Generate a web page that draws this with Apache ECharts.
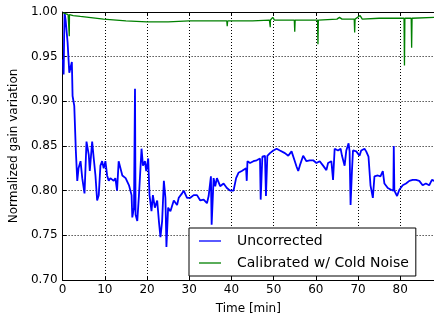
<!DOCTYPE html>
<html>
<head>
<meta charset="utf-8">
<script src="https://cdn.jsdelivr.net/npm/echarts@6/dist/echarts.min.js"></script>
<style>
  html, body {margin: 0; padding: 0; background: #fff;}
  #chart {width: 434px; height: 320px;}
</style>
</head>
<body>
<div id="chart"></div>
<script>
// minutes since start
const blueTime = [0.07, 0.24, 0.35, 0.47, 0.71, 1.18, 1.58, 2.19, 2.36, 2.76, 3.14, 3.47, 3.77, 4.25, 4.65, 5.19, 5.66, 6.2, 6.44, 7.0,
  7.38, 7.78, 8.18, 8.56, 8.96, 9.36, 9.74, 10.14, 10.54, 10.92, 11.32, 12.1, 12.5, 12.9, 13.28, 13.68, 14.15, 14.93, 15.73, 16.34,
  16.51, 16.91, 17.15, 17.29, 17.69, 18.09, 18.7, 19.03, 19.5, 19.81, 20.28, 20.59, 21.06, 21.39, 21.86, 22.41, 22.81, 23.18, 23.58, 23.99,
  24.36, 24.6, 25.0, 25.54, 26.34, 27.12, 27.52, 28.3, 28.7, 29.48, 30.26, 31.06, 31.84, 32.62, 33.42, 34.2, 34.6, 35.14, 35.31, 35.78,
  36.16, 36.56, 37.33, 38.14, 38.92, 39.69, 40.5, 41.11, 41.67, 42.45, 43.47, 43.63, 43.8, 44.41, 45.21, 45.99, 46.77, 46.93, 47.33, 47.95,
  48.18, 48.51, 49.13, 49.93, 50.71, 51.49, 52.67, 53.47, 54.25, 54.65, 55.02, 55.42, 55.83, 56.2, 57.0, 57.78, 58.56, 59.36, 60.14, 60.92,
  61.72, 62.5, 62.9, 63.68, 64.08, 64.46, 65.26, 65.87, 66.2, 66.82, 67.22, 67.76, 68.0, 68.23, 68.56, 68.8, 69.58, 70.35, 70.75, 71.53,
  71.93, 72.48, 72.95, 73.28, 73.51, 73.89, 74.69, 75.31, 75.87, 76.25, 77.05, 77.83, 78.37, 78.47, 78.61, 79.25, 79.79, 80.59, 81.37, 82.15,
  82.95, 83.73, 84.51, 85.31, 86.08, 86.86, 87.5, 88.04];
const blueGain = [0.947, 0.930, 0.969, 0.999, 0.991, 0.966, 0.932, 0.944, 0.906, 0.895, 0.844, 0.811, 0.825, 0.833, 0.814, 0.797, 0.855, 0.840, 0.822, 0.855,
  0.836, 0.817, 0.789, 0.795, 0.828, 0.833, 0.825, 0.833, 0.817, 0.811, 0.814, 0.811, 0.814, 0.800, 0.833, 0.834, 0.817, 0.814, 0.806, 0.795,
  0.770, 0.781, 0.914, 0.773, 0.766, 0.795, 0.847, 0.828, 0.833, 0.822, 0.836, 0.795, 0.777, 0.795, 0.781, 0.789, 0.766, 0.748, 0.766, 0.811,
  0.792, 0.737, 0.781, 0.777, 0.789, 0.784, 0.792, 0.797, 0.800, 0.792, 0.792, 0.795, 0.795, 0.789, 0.790, 0.786, 0.794, 0.816, 0.762, 0.814,
  0.805, 0.814, 0.805, 0.808, 0.803, 0.800, 0.800, 0.814, 0.820, 0.822, 0.825, 0.811, 0.833, 0.831, 0.833, 0.834, 0.836, 0.790, 0.838, 0.839,
  0.794, 0.839, 0.842, 0.845, 0.847, 0.845, 0.842, 0.839, 0.844, 0.844, 0.833, 0.827, 0.822, 0.828, 0.839, 0.833, 0.834, 0.834, 0.831, 0.833,
  0.828, 0.823, 0.831, 0.833, 0.812, 0.847, 0.845, 0.847, 0.839, 0.828, 0.845, 0.853, 0.844, 0.784, 0.822, 0.845, 0.844, 0.839, 0.845, 0.847,
  0.844, 0.838, 0.806, 0.805, 0.792, 0.816, 0.817, 0.816, 0.822, 0.808, 0.803, 0.801, 0.800, 0.850, 0.800, 0.794, 0.801, 0.806, 0.808, 0.811,
  0.812, 0.812, 0.811, 0.806, 0.808, 0.806, 0.812, 0.811];

const greenTime = [0.17, 0.5, 1.3, 1.55, 1.58, 1.62, 2.5, 4.2, 9.7, 15.0, 20.0, 25.0, 30.0, 38.0, 38.9, 39.0, 39.1, 45.0, 49.0, 49.15,
  49.2, 49.25, 49.8, 50.2, 54.9, 55.0, 55.1, 60.4, 60.5, 60.6, 65.0, 65.6, 66.2, 69.1, 69.2, 69.3, 70.5, 71.0, 75.0, 80.9,
  81.0, 81.1, 82.6, 82.7, 82.8, 88.0];
const greenGain = [0.999, 0.998, 0.997, 0.997, 0.973, 0.997, 0.996, 0.995, 0.992, 0.990, 0.989, 0.989, 0.990, 0.990, 0.990, 0.984, 0.990, 0.990, 0.991, 0.991,
  0.983, 0.991, 0.994, 0.991, 0.991, 0.978, 0.991, 0.991, 0.964, 0.991, 0.992, 0.994, 0.992, 0.992, 0.977, 0.992, 0.996, 0.992, 0.993, 0.993,
  0.940, 0.993, 0.993, 0.960, 0.993, 0.994];

const seriesNames = ['Uncorrected', 'Calibrated w/ Cold Noise'];

const font = 'DejaVu Sans';
const dotted = {color: '#000', width: 1, type: [1, 2]};

const chart = echarts.init(document.getElementById('chart'), null, {renderer: 'canvas'});
chart.setOption({
  animation: false,
  backgroundColor: '#fff',
  textStyle: {fontFamily: font},
  grid: {left: 60, right: -1, top: 12, bottom: 37},
  legend: {
    data: seriesNames,
    orient: 'vertical',
    left: 189,
    top: 228,
    padding: [5, 7, 5, 10],
    itemGap: 6,
    itemWidth: 22,
    itemHeight: 1.3,
    icon: 'rect',
    backgroundColor: '#fff',
    borderColor: '#000',
    borderWidth: 1,
    borderRadius: 0,
    textStyle: {fontFamily: font, fontSize: 14, color: '#000', lineHeight: 16, padding: [0, 0, 0, 11]}
  },
  xAxis: [{
    type: 'value',
    min: 0,
    max: 88,
    interval: 10,
    name: 'Time [min]',
    nameLocation: 'middle',
    nameGap: 23,
    nameTextStyle: {fontFamily: font, fontSize: 12, color: '#000'},
    axisLine: {onZero: false, lineStyle: {color: '#000', width: 1}},
    axisTick: {inside: true, length: 4, lineStyle: {color: '#000'}},
    axisLabel: {fontFamily: font, fontSize: 12, color: '#000', margin: 4, showMaxLabel: false},
    splitLine: {show: true, lineStyle: dotted}
  }, {
    type: 'value',
    position: 'top',
    min: 0,
    max: 88,
    interval: 10,
    axisLine: {onZero: false, lineStyle: {color: '#000', width: 1}},
    axisTick: {inside: true, length: 4, lineStyle: {color: '#000'}},
    axisLabel: {show: false},
    splitLine: {show: false}
  }],
  yAxis: {
    type: 'value',
    min: 0.7,
    max: 1.0,
    interval: 0.05,
    name: 'Normalized gain variation',
    nameLocation: 'middle',
    nameGap: 42,
    nameTextStyle: {fontFamily: font, fontSize: 12, color: '#000'},
    axisLine: {show: true, onZero: false, lineStyle: {color: '#000', width: 1}},
    axisTick: {show: true, inside: true, length: 4, lineStyle: {color: '#000'}},
    axisLabel: {fontFamily: font, fontSize: 12, color: '#000', margin: 5, formatter: v => v.toFixed(2)},
    splitLine: {show: true, lineStyle: dotted}
  },
  series: [{
    name: seriesNames[0],
    type: 'line',
    showSymbol: false,
    symbol: 'none',
    color: '#0000ff',
    lineStyle: {color: '#0000ff', width: 1.8},
    data: blueTime.map((t, i) => [t, blueGain[i]])
  }, {
    name: seriesNames[1],
    type: 'line',
    showSymbol: false,
    symbol: 'none',
    color: '#008000',
    lineStyle: {color: '#008000', width: 1.3},
    data: greenTime.map((t, i) => [t, greenGain[i]])
  }]
});
</script>
</body>
</html>
